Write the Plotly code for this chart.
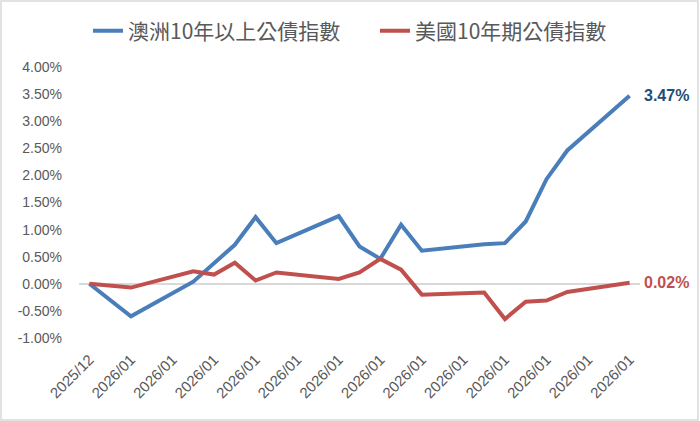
import plotly.graph_objects as go

dates = ["2025-12-31", "2026-01-02", "2026-01-05", "2026-01-06", "2026-01-07",
         "2026-01-08", "2026-01-09", "2026-01-12", "2026-01-13", "2026-01-14",
         "2026-01-15", "2026-01-16", "2026-01-19", "2026-01-20", "2026-01-21",
         "2026-01-22", "2026-01-23", "2026-01-26"]
au_10y_plus = [0.00, -0.60, 0.04, 0.37, 0.72, 1.23, 0.75, 1.25, 0.69, 0.46,
               1.09, 0.61, 0.73, 0.75, 1.15, 1.93, 2.46, 3.47]
us_10y = [0.00, -0.07, 0.23, 0.17, 0.39, 0.06, 0.21, 0.09, 0.21, 0.46,
          0.26, -0.20, -0.16, -0.65, -0.33, -0.31, -0.15, 0.02]
series_names = ["澳洲10年以上公債指數", "美國10年期公債指數"]
y_tickvals = [-1.0, -0.5, 0.0, 0.5, 1.0, 1.5, 2.0, 2.5, 3.0, 3.5, 4.0]
y_ticktext = ["-1.00%", "-0.50%", "0.00%", "0.50%", "1.00%", "1.50%",
              "2.00%", "2.50%", "3.00%", "3.50%", "4.00%"]

W, H = 700, 421
ML, MR, MT, MB = 79, 60, 67, 83
pw, ph = W - ML - MR, H - MT - MB

blue, red = "#4A7EBB", "#C0504D"
gray = "#595959"

fig = go.Figure()
fig.add_trace(go.Scatter(x=dates, y=au_10y_plus, name=series_names[0], mode="lines",
                         line=dict(color=blue, width=4), legend="legend"))
fig.add_trace(go.Scatter(x=dates, y=us_10y, name=series_names[1], mode="lines",
                         line=dict(color=red, width=4), legend="legend2"))

fig.add_annotation(x=dates[-1], y=au_10y_plus[-1], text=f"<b>{au_10y_plus[-1]:.2f}%</b>",
                   showarrow=False, xanchor="left", xshift=12,
                   font=dict(size=16, color="#1F4E79", family="Liberation Sans, Arial"))
fig.add_annotation(x=dates[-1], y=us_10y[-1], text=f"<b>{us_10y[-1]:.2f}%</b>",
                   showarrow=False, xanchor="left", xshift=12,
                   font=dict(size=16, color=red, family="Liberation Sans, Arial"))

# outer border of the chart
fig.add_shape(type="rect", xref="paper", yref="paper",
              x0=-(ML - 1) / pw, x1=1 + (MR - 2) / pw,
              y0=-(MB - 1) / ph, y1=1 + (MT - 1) / ph,
              line=dict(color="#D9D9D9", width=1.5), layer="below")

legend_style = dict(orientation="h", xref="container", xanchor="left",
                    yref="container", y=1 - 31 / H, yanchor="middle",
                    font=dict(size=21, color=gray, family="Noto Sans CJK TC, Liberation Sans"),
                    itemwidth=30, bgcolor="rgba(0,0,0,0)")

fig.update_layout(
    width=W, height=H,
    margin=dict(l=ML, r=MR, t=MT, b=MB, autoexpand=False),
    paper_bgcolor="white", plot_bgcolor="white",
    font=dict(family="Liberation Sans, Noto Sans CJK TC, Arial", color=gray, size=14),
    legend=dict(legend_style, x=(95 - 7) / W),
    legend2=dict(legend_style, x=(382 - 7) / W),
    xaxis=dict(type="date", range=["2025-12-30 12:00", "2026-01-26 12:00"],
               tick0="2025-12-31", dtick=2 * 86400000, tickformat="%Y/%m",
               tickangle=-45, showgrid=False, zeroline=False, showline=False,
               ticks="", automargin=False, ticklabelstandoff=9,
               tickfont=dict(size=15, color=gray)),
    yaxis=dict(range=[-1.0, 4.0], tickvals=y_tickvals, ticktext=y_ticktext,
               showgrid=False, zeroline=True, zerolinecolor="#D9D9D9", zerolinewidth=1.5,
               showline=False, ticks="", ticklabelstandoff=16, automargin=False,
               tickfont=dict(size=14, color=gray)),
    showlegend=True,
)

fig.write_html("out.html", config={"displayModeBar": False},
               post_script="document.body.style.margin='0';")
